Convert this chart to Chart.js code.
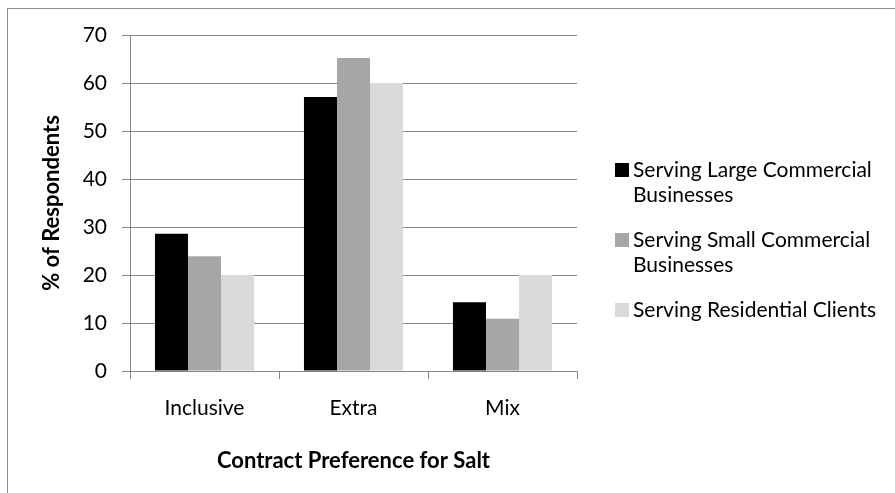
<!DOCTYPE html>
<html>
<head>
<meta charset="utf-8">
<script src="https://cdn.jsdelivr.net/npm/chart.js@4.4.1/dist/chart.umd.min.js"></script>
<style>
  html, body { margin: 0; padding: 0; background: #ffffff; }
  #wrap { position: relative; width: 895px; height: 493px; }
  canvas { display: block; }
</style>
</head>
<body>
<div id="wrap"><canvas id="chart" width="895" height="493"></canvas></div>
<script>
// Contract preference for salt, by client segment (% of respondents)
const categories = ['Inclusive', 'Extra', 'Mix'];
const seriesNames = [
  'Serving Large Commercial Businesses',
  'Serving Small Commercial Businesses',
  'Serving Residential Clients'
];
const largeCommercial = [28.6, 57.1, 14.3];
const smallCommercial = [23.9, 65.2, 10.9];
const residential = [20.0, 60.0, 20.0];
const yTicks = [0, 10, 20, 30, 40, 50, 60, 70];

// legend text is wrapped onto two lines where it is long
const legendLines = [
  ['Serving Large Commercial', 'Businesses'],
  ['Serving Small Commercial', 'Businesses'],
  ['Serving Residential Clients']
];

const FONT = 'Lato, "Open Sans", sans-serif';
const gridGray = '#868686';

// outer frame of the chart panel
const framePlugin = {
  id: 'frame',
  beforeDraw(chart) {
    const ctx = chart.ctx;
    ctx.save();
    ctx.strokeStyle = '#8c8c8c';
    ctx.lineWidth = 1;
    ctx.strokeRect(7.5, 8.5, 1000, 1000);
    ctx.restore();
  }
};

// legend drawn at the right of the plot, with wrapped labels
const sideLegend = {
  id: 'sideLegend',
  afterDraw(chart) {
    const ctx = chart.ctx;
    ctx.save();
    ctx.font = '21px ' + FONT;
    ctx.textBaseline = 'middle';
    const x0 = 615, tx = 633, lh = 25;
    const starts = [170, 240, 310];
    chart.data.datasets.forEach((ds, i) => {
      const y = starts[i];
      ctx.fillStyle = ds.backgroundColor;
      ctx.fillRect(x0, y - 7, 14, 14);
      ctx.fillStyle = '#000';
      legendLines[i].forEach((line, j) => ctx.fillText(line, tx, y + j * lh));
    });
    ctx.restore();
  }
};

new Chart(document.getElementById('chart'), {
  type: 'bar',
  data: {
    labels: categories,
    datasets: [
      { label: seriesNames[0], data: largeCommercial, backgroundColor: '#000000' },
      { label: seriesNames[1], data: smallCommercial, backgroundColor: '#a6a6a6' },
      { label: seriesNames[2], data: residential, backgroundColor: '#d9d9d9' }
    ]
  },
  options: {
    responsive: false,
    animation: false,
    devicePixelRatio: 1,
    layout: { padding: { left: 0, top: 35, right: 318, bottom: 0 } },
    datasets: { bar: { barPercentage: 1, categoryPercentage: 0.665, borderWidth: 0 } },
    plugins: {
      legend: { display: false },
      tooltip: { enabled: false }
    },
    scales: {
      x: {
        grid: { display: true, drawOnChartArea: false, color: gridGray, tickLength: 8, offset: true },
        border: { color: gridGray, width: 1 },
        ticks: { color: '#000', font: { family: FONT, size: 21 }, padding: 17 },
        title: {
          display: true, text: 'Contract Preference for Salt', color: '#000',
          font: { family: FONT, size: 22, weight: 'bold' }, padding: { top: 0, bottom: 19 }
        },
        afterFit(scale) { scale.height = 122; }
      },
      y: {
        min: 0, max: 70,
        afterBuildTicks(scale) { scale.ticks = yTicks.map(v => ({ value: v })); },
        grid: { color: gridGray, tickLength: 8 },
        border: { color: gridGray, width: 1 },
        ticks: { color: '#000', font: { family: FONT, size: 21 }, padding: 15 },
        title: {
          display: true, text: '% of Respondents', color: '#000',
          font: { family: FONT, size: 22, weight: 'bold' }, padding: { top: 39, bottom: 0 }
        },
        afterFit(scale) { scale.width = 130; }
      }
    }
  },
  plugins: [framePlugin, sideLegend]
});
</script>
</body>
</html>
